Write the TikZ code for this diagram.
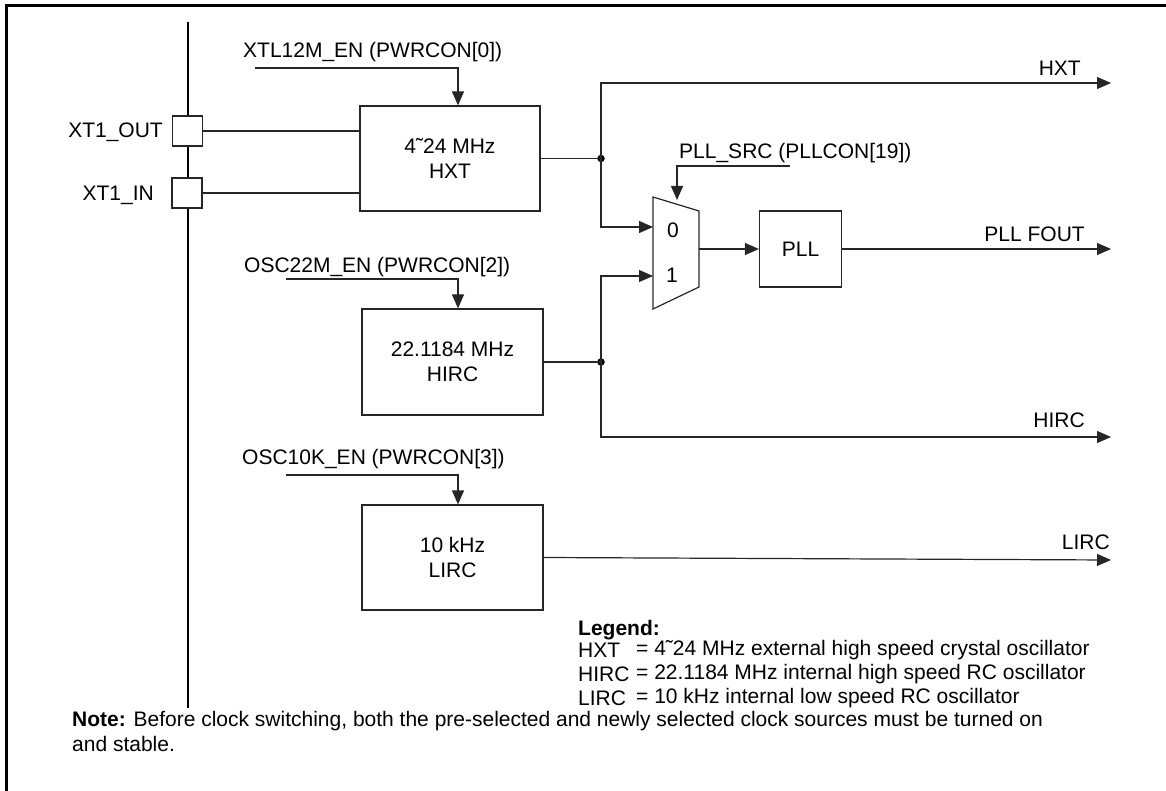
\documentclass[tikz,border=0pt]{standalone}
\usepackage{fontspec}
\setmainfont{Liberation Sans}
\usetikzlibrary{arrows.meta}
\newcommand{\fsz}{\fontsize{21}{25}\selectfont}
\tikzset{
  wire/.style={line width=1.2pt, draw=black!85},
  sig/.style={wire, -{Triangle[length=14pt,width=12pt]}},
  blk/.style={draw=black!85, line width=1.2pt, minimum width=181pt, minimum height=105pt, inner sep=0pt, align=center, font=\fsz},
  pad/.style={draw=black!85, line width=1.2pt, minimum width=30pt, minimum height=30pt, inner sep=0pt},
  lbl/.style={inner sep=0pt, font=\fsz},
  dotj/.style={circle, fill=black, inner sep=0pt, minimum size=7.5pt},
}
\begin{document}
\begin{tikzpicture}[x=1pt,y=-1pt]
\useasboundingbox (0,0) rectangle (1166,791);
% frame
\draw[line width=3pt] (1166,6) -- (6,6) -- (6,791);
% bus line and pads
\node[pad] (xout) at (187.5,131) {};
\node[pad] (xin) at (187,193) {};
\coordinate (bustop) at (188,22);
\coordinate (busbot) at (188,708);
\draw[line width=2pt] (bustop) -- (bustop |- xout.north);
\draw[line width=2pt] (bustop |- xout.south) -- (bustop |- xin.north);
\draw[line width=2pt] (bustop |- xin.south) -- (busbot);
\node[lbl, anchor=east] (xoutl) at (163,132) {XT1\_OUT};
\node[lbl, anchor=east] (xinl) at (154,195) {XT1\_IN};

% blocks
\node[blk, minimum width=180pt] (hxt) at (450,158.5) {4˜24 MHz\\HXT};
\node[blk, minimum height=106pt] (hirc) at (452.5,362) {22.1184 MHz\\HIRC};
\node[blk] (lirc) at (452.5,557.5) {10 kHz\\LIRC};
\node[blk, minimum width=82pt, minimum height=76pt] (pll) at (800.5,249) {PLL};

% crystal lines
\draw[wire] (xout.east) -- (hxt.west |- xout.east);
\draw[wire] (xin.east) -- (hxt.west |- xin.east);

% enable labels
\node[lbl, anchor=west] (en1) at (243,52) {XTL12M\_EN (PWRCON[0])};
\node[lbl, anchor=west] (en2) at (244,267) {OSC22M\_EN (PWRCON[2])};
\node[lbl, anchor=west] (en3) at (242,459) {OSC10K\_EN (PWRCON[3])};
\coordinate (e1) at (255,68);
\coordinate (e2) at (286,279);
\coordinate (e3) at (286,475);
\draw[sig] (e1) -| (hxt.north -| 458,0);
\draw[sig] (e2) -| (hirc.north -| 458,0);
\draw[sig] (e3) -| (lirc.north -| 458,0);

% mux
\coordinate (m1) at (653,197);
\coordinate (m2) at (699,211);
\coordinate (m3) at (699,287);
\coordinate (m4) at (653,309);
\draw[wire] (m1) -- (m2) -- (m3) -- (m4) -- cycle;
\node[lbl] (mux0) at (673,230) {0};
\node[lbl] (mux1) at (672,275) {1};
\coordinate (min0) at (653,227);
\coordinate (min1) at (653,276);
\coordinate (mout) at (699,249);
\coordinate (msel) at (677,200);

% junctions
\node[dotj] (j1) at (601,158.5) {};
\node[dotj] (j2) at (601,362) {};

% outputs
\coordinate (ohxt) at (1111,83);
\coordinate (opll) at (1111,249);
\coordinate (ohirc) at (1111,437);
\coordinate (olirc) at (1111,560);

\draw[wire] (hxt.east) -- (j1.center);
\draw[sig] (j1.center) |- (ohxt);
\draw[sig] (j1.center) |- (min0);
\draw[wire] (hirc.east) -- (j2.center);
\draw[sig] (j2.center) |- (min1);
\draw[sig] (j2.center) |- (ohirc);
\draw[sig] (lirc.east) -- (olirc);
\draw[sig] (mout) -- (pll.west);
\draw[sig] (pll.east) -- (opll);

% PLL_SRC
\node[lbl, anchor=west] (srcl) at (679,153) {PLL\_SRC (PLLCON[19])};
\coordinate (src) at (790,166);
\draw[sig] (src) -| (msel);

% output labels
\node[lbl, anchor=east] (lhxt) at (1081,68) {HXT};
\node[lbl, anchor=east] (lpll) at (1085,234) {PLL FOUT};
\node[lbl, anchor=east] (lhirc) at (1085,420) {HIRC};
\node[lbl, anchor=east] (llirc) at (1110,542) {LIRC};

% legend
\node[lbl, anchor=west] (leg) at (578,630) {\textbf{Legend:}};
\node[lbl, anchor=west] (lg1a) at (578,650) {HXT};
\node[lbl, anchor=west] (lg1b) at (636,650) {= 4˜24 MHz external high speed crystal oscillator};
\node[lbl, anchor=west] (lg2a) at (578,674) {HIRC};
\node[lbl, anchor=west] (lg2b) at (636,674) {= 22.1184 MHz internal high speed RC oscillator};
\node[lbl, anchor=west] (lg3a) at (578,698) {LIRC};
\node[lbl, anchor=west] (lg3b) at (636,698) {= 10 kHz internal low speed RC oscillator};

% note
\node[lbl, anchor=west] (note1) at (72,721) {\textbf{Note:} Before clock switching, both the pre-selected and newly selected clock sources must be turned on};
\node[lbl, anchor=west] (note2) at (72,744) {and stable.};
\end{tikzpicture}
\end{document}
